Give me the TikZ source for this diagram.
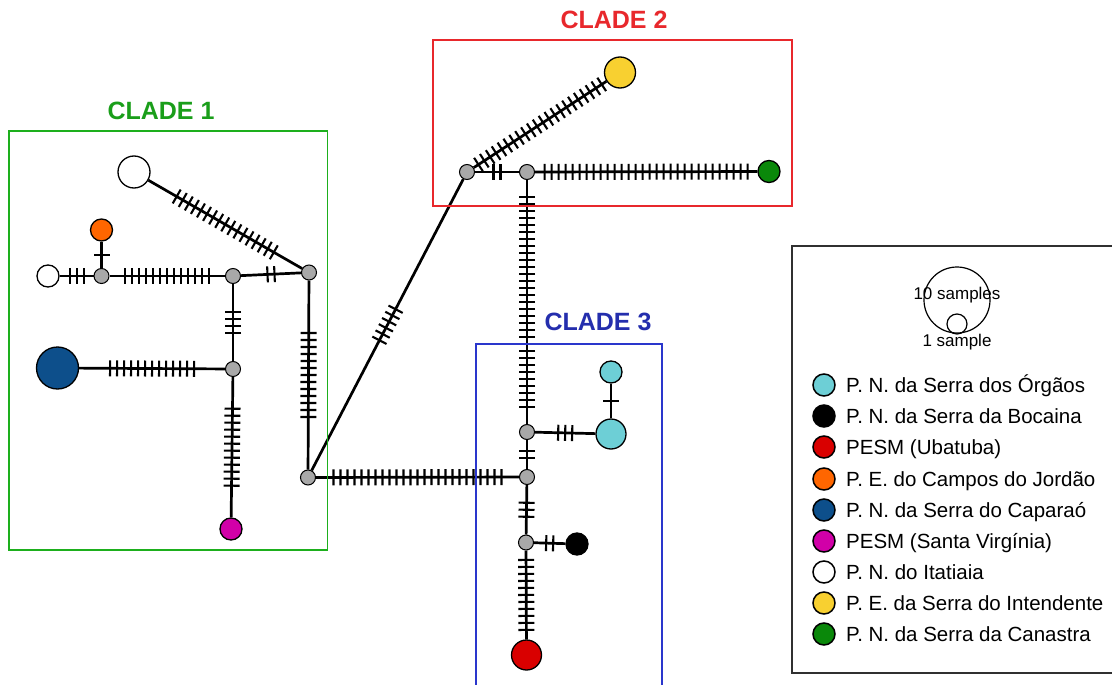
\documentclass[tikz,border=0pt]{standalone}
\usepackage{fontspec}
\setmainfont{Liberation Sans}
\usetikzlibrary{calc,backgrounds}

% haplotype colours (sampling localities)
\definecolor{hcyan}{HTML}{6DCFD6}
\definecolor{hblack}{HTML}{000000}
\definecolor{hred}{HTML}{D90000}
\definecolor{horange}{HTML}{FF6600}
\definecolor{hblue}{HTML}{0D4F8B}
\definecolor{hmagenta}{HTML}{D100A8}
\definecolor{hwhite}{HTML}{FFFFFF}
\definecolor{hyellow}{HTML}{F8D030}
\definecolor{hgreen}{HTML}{0A880A}
\definecolor{medgray}{HTML}{A8A8A8}
% clade frames
\definecolor{cladeone}{HTML}{1DAF1D}
\definecolor{cladetwo}{HTML}{E8282C}
\definecolor{cladethree}{HTML}{2A36CC}
\definecolor{framegray}{HTML}{303030}

% #1 = from node, #2 = to node, #3 = number of mutation steps
\newcommand{\mutations}[3]{%
  \path (#1) -- (#2) coordinate[pos=0.5] (mutmid);
  \foreach \k in {1,...,#3}{%
    \pgfmathsetmacro{\dd}{(\k-(#3+1)/2)*7}%
    \path ($(mutmid)!\dd pt!(#2)$) coordinate (mutpt);
    \draw[tickline] ($(mutpt)!8pt!90:(#2)$) -- ($(mutpt)!8pt!-90:(#2)$);
  }%
}

\begin{document}
\begin{tikzpicture}[x=1pt,y=-1pt,
  hap/.style={circle, draw=black, line width=1.3pt, inner sep=0pt, minimum size=#1},
  median/.style={circle, draw=black, line width=1pt, fill=medgray, inner sep=0pt, minimum size=15pt},
  link/.style={line width=2.7pt, black},
  tickline/.style={line width=2.1pt, black},
  cladelabel/.style={font=\bfseries\fontsize{25}{30}\selectfont, inner sep=0pt},
  legtext/.style={font=\fontsize{20.5}{24}\selectfont, inner sep=0pt, text=black},
  sizetext/.style={font=\fontsize{17}{20}\selectfont, inner sep=0pt, text=black}
]
\useasboundingbox (0,0) rectangle (1112,685);

% ---------------- haplotypes ----------------
\node[hap=22pt, fill=hwhite]   (itA)  at (48,276) {};
\node[hap=22pt, fill=horange]  (jor)  at (101.5,230) {};
\node[median]                  (mA)   at (101.5,276) {};
\node[median]                  (mB)   at (233,276) {};
\node[median]                  (mC)   at (309,272.5) {};
\node[hap=32pt, fill=hwhite]   (itB)  at (134,172) {};
\node[median]                  (mD)   at (233,369) {};
\node[hap=42pt, fill=hblue]    (cap)  at (57.5,368) {};
\node[hap=22pt, fill=hmagenta] (vir)  at (231,529) {};
\node[median]                  (mE)   at (308,477.5) {};
\node[median]                  (mF)   at (467,172) {};
\node[median]                  (mH)   at (527,172) {};
\node[hap=31pt, fill=hyellow]  (intd) at (620,72.5) {};
\node[hap=22pt, fill=hgreen]   (can)  at (769,171.5) {};
\node[median]                  (mI)   at (527,432) {};
\node[median]                  (mG)   at (527,477) {};
\node[hap=30pt, fill=hcyan]    (orgB) at (611,434) {};
\node[hap=22pt, fill=hcyan]    (orgA) at (611,372) {};
\node[median]                  (mJ)   at (526,542.5) {};
\node[hap=22pt, fill=hblack]   (boc)  at (577,544) {};
\node[hap=30pt, fill=hred]     (uba)  at (526.5,655) {};

% ---------------- network edges and mutation steps ----------------
\begin{pgfonlayer}{background}
  \draw[link] (itA) -- (mA);   \mutations{itA}{mA}{3}
  \draw[link] (jor) -- (mA);   \mutations{jor}{mA}{1}
  \draw[link] (mA) -- (mB);    \mutations{mA}{mB}{13}
  \draw[link] (mB) -- (mC);    \mutations{mB}{mC}{2}
  \draw[link] (itB) -- (mC);   \mutations{itB}{mC}{17}
  \draw[link] (mB) -- (mD);    \mutations{mB}{mD}{4}
  \draw[link] (cap) -- (mD);   \mutations{cap}{mD}{13}
  \draw[link] (mD) -- (vir);   \mutations{mD}{vir}{12}
  \draw[link] (mC) -- (mE);    \mutations{mC}{mE}{13}
  \draw[link] (mE) -- (mF);    \mutations{mE}{mF}{6}
  \draw[link] (mE) -- (mG);    \mutations{mE}{mG}{25}
  \draw[link] (mF) -- (mH);    \mutations{mF}{mH}{2}
  \draw[link] (mF) -- (intd);  \mutations{mF}{intd}{22}
  \draw[link] (mH) -- (can);   \mutations{mH}{can}{30}
  \draw[link] (mH) -- (mI);    \mutations{mH}{mI}{31}
  \draw[link] (mI) -- (mG);    \mutations{mI}{mG}{2}
  \draw[link] (mI) -- (orgB);  \mutations{mI}{orgB}{3}
  \draw[link] (orgB) -- (orgA);\mutations{orgB}{orgA}{1}
  \draw[link] (mG) -- (mJ);    \mutations{mG}{mJ}{3}
  \draw[link] (mJ) -- (boc);   \mutations{mJ}{boc}{2}
  \draw[link] (mJ) -- (uba);   \mutations{mJ}{uba}{11}

  % clade frames, drawn over the edges
  \draw[cladeone, line width=1.9pt] (9,131) rectangle (327.5,550);
  \draw[cladetwo, line width=1.5pt] (433,40) rectangle (792,206);
  \draw[cladethree, line width=1.5pt] (476,690) -- (476,344) -- (662,344) -- (662,690);
\end{pgfonlayer}

\node[cladelabel, text=cladeone!90!black]   (c1) at (161,111) {CLADE 1};
\node[cladelabel, text=cladetwo]            (c2) at (614,20) {CLADE 2};
\node[cladelabel, text=cladethree!85!black] (c3) at (598,322) {CLADE 3};

% ---------------- legend ----------------
\draw[framegray, line width=1.7pt] (1115,246) -- (792,246) -- (792,673) -- (1115,673);
\node[circle, draw=black, line width=1.2pt, inner sep=0pt, minimum size=66pt] (tenS) at (957,300) {};
\node[circle, draw=black, line width=1.2pt, inner sep=0pt, minimum size=20pt] (oneS) at (957,324) {};
\node[sizetext] (tenT) at (957,295) {10 samples};
\node[sizetext] (oneT) at (957,342) {1 sample};

\foreach \yy/\col/\lbl [count=\i] in {
  385/hcyan/{P. N. da Serra dos Órgãos},
  416/hblack/{P. N. da Serra da Bocaina},
  447/hred/{PESM (Ubatuba)},
  479/horange/{P. E. do Campos do Jordão},
  510/hblue/{P. N. da Serra do Caparaó},
  541/hmagenta/{PESM (Santa Virgínia)},
  572/hwhite/{P. N. do Itatiaia},
  603/hyellow/{P. E. da Serra do Intendente},
  634/hgreen/{P. N. da Serra da Canastra}}{
  \node[hap=22pt, fill=\col, line width=1.5pt] (key\i) at (824,\yy) {};
  \node[legtext, anchor=base west] (keytext\i) at (846,\yy+7.4) {\lbl};
}
\end{tikzpicture}
\end{document}
